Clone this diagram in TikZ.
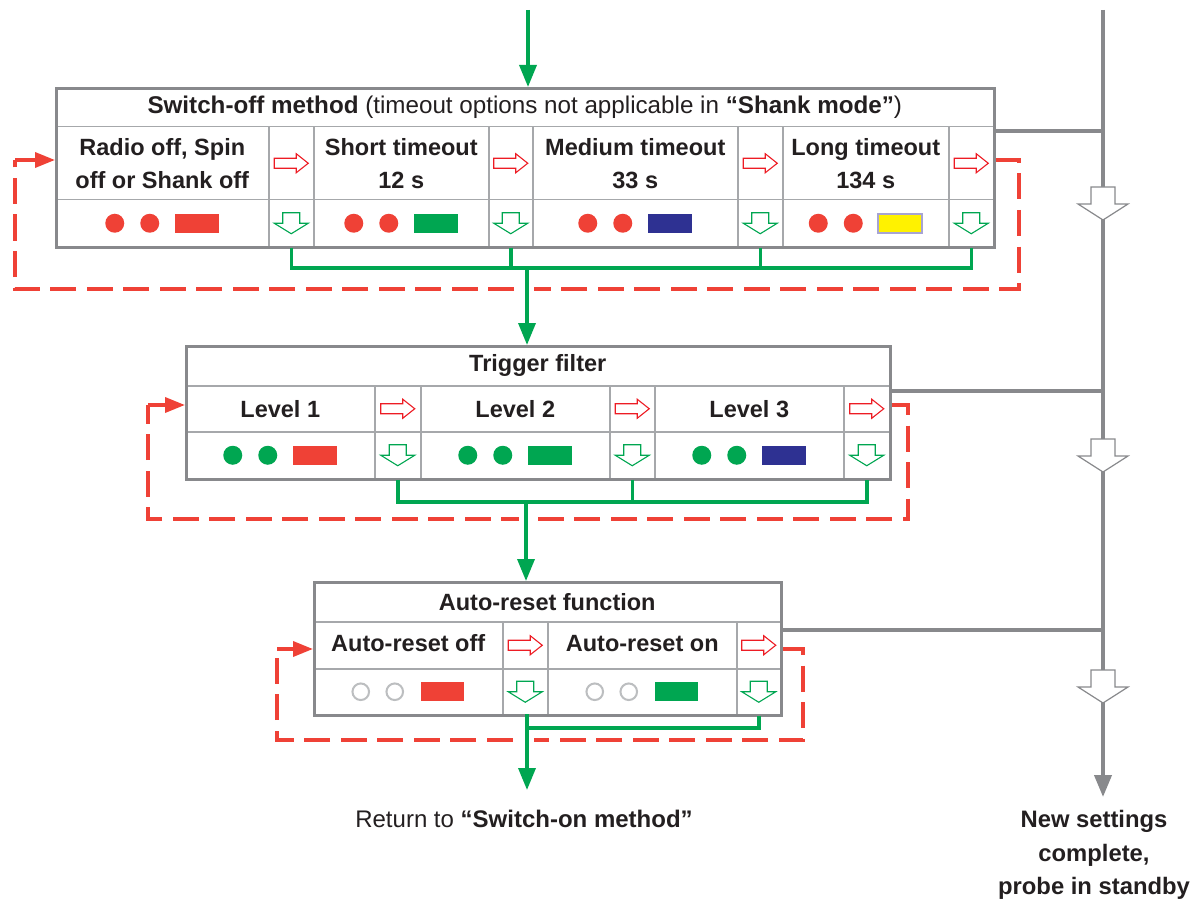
\documentclass[tikz,border=0pt]{standalone}
\usepackage{fontspec}
\setmainfont{Liberation Sans}
\usetikzlibrary{arrows.meta}
\definecolor{rd}{HTML}{EF4136}
\definecolor{rdl}{HTML}{ED1C24}
\definecolor{gn}{HTML}{00A651}
\definecolor{bl}{HTML}{2E3192}
\definecolor{yl}{HTML}{FFF200}
\definecolor{ylb}{HTML}{A7A4D3}
\definecolor{gr}{HTML}{88898C}
\definecolor{grl}{HTML}{A6A8AB}
\definecolor{ring}{HTML}{BCBEC0}
\definecolor{txt}{HTML}{231F20}
\tikzset{
  cell/.style={draw=grl, line width=1.5pt, inner sep=0pt, anchor=north west, align=center, text=txt, font=\bfseries\fontsize{23.5}{33}\selectfont},
  outer/.style={draw=gr, line width=3pt, inner sep=0pt, anchor=north west},
  gline/.style={draw=gn, line width=3.5pt, line join=miter},
  garrow/.style={gline, -{Triangle[width=17pt,length=22pt]}},
  rloop/.style={draw=rd, line width=3.5pt, dash pattern=on 26pt off 10.5pt, line join=miter},
  rtip/.style={draw=rd, line width=3.5pt, -{Triangle[width=15pt,length=20pt]}},
  grline/.style={draw=gr, line width=4pt},
  grarrow/.style={grline, -{Triangle[width=17pt,length=22pt]}},
  halo/.style={draw=white, line width=14pt},
  pics/rarr/.style={code={\draw[rdl, fill=white, line width=1.1pt, line join=miter] (-17,-5) -- (5,-5) -- (5,-9.5) -- (17,0) -- (5,9.5) -- (5,5) -- (-17,5) -- cycle;}},
  pics/darr/.style={code={\draw[gn, fill=white, line width=1.1pt, line join=miter] (-8.5,-10.5) -- (8.5,-10.5) -- (8.5,0) -- (17,0) -- (0,10.5) -- (-17,0) -- (-8.5,0) -- cycle;}},
  pics/bigdarr/.style={code={\draw[gr, fill=white, line width=1.2pt, line join=miter] (-12,0) -- (12,0) -- (12,17) -- (25,17) -- (0,33) -- (-25,17) -- (-12,17) -- cycle;}},
  pics/lamps/.style 2 args={code={
     \path[#1] (-47.5,0) circle[radius=9.5] (-12.5,0) circle[radius=9.5];
     \path[#2] (12.5,-9.5) rectangle (56.5,9.5);}},
  pics/rings/.style={code={
     \path[draw=ring, line width=2pt, fill=white] (-47.5,0) circle[radius=8.3] (-13.5,0) circle[radius=8.3];
     \path[#1] (12.5,-9.5) rectangle (55.5,9.5);}},
}
\begin{document}
\begin{tikzpicture}[x=1pt,y=-1pt]
\useasboundingbox (0,0) rectangle (1198,901);

% ---------- Box 1 ----------
\node[cell, minimum width=938pt, minimum height=39pt, font=\fontsize{24.2}{28}\selectfont] (h1) at (55,87) {\textbf{Switch-off method} (timeout options not applicable in \textbf{“Shank mode”})};
\node[cell, minimum width=213pt, minimum height=73pt] (b1t1) at (55,126) {Radio off, Spin\\off or Shank off};
\node[cell, minimum width=45pt, minimum height=73pt] (b1r1) at (268,126) {};
\node[cell, minimum width=175pt, minimum height=73pt] (b1t2) at (313,126) {Short timeout\\12 s};
\node[cell, minimum width=44pt, minimum height=73pt] (b1r2) at (488,126) {};
\node[cell, minimum width=205pt, minimum height=73pt] (b1t3) at (532,126) {Medium timeout\\33 s};
\node[cell, minimum width=45pt, minimum height=73pt] (b1r3) at (737,126) {};
\node[cell, minimum width=166pt, minimum height=73pt] (b1t4) at (782,126) {Long timeout\\134 s};
\node[cell, minimum width=45pt, minimum height=73pt] (b1r4) at (948,126) {};
\node[cell, minimum width=213pt, minimum height=47pt] (b1l1) at (55,199) {};
\node[cell, minimum width=45pt, minimum height=47pt] (b1d1) at (268,199) {};
\node[cell, minimum width=175pt, minimum height=47pt] (b1l2) at (313,199) {};
\node[cell, minimum width=44pt, minimum height=47pt] (b1d2) at (488,199) {};
\node[cell, minimum width=205pt, minimum height=47pt] (b1l3) at (532,199) {};
\node[cell, minimum width=45pt, minimum height=47pt] (b1d3) at (737,199) {};
\node[cell, minimum width=166pt, minimum height=47pt] (b1l4) at (782,199) {};
\node[cell, minimum width=45pt, minimum height=47pt] (b1d4) at (948,199) {};
\node[outer, minimum width=938pt, minimum height=159pt] (box1) at (55,87) {};

% ---------- Box 2 ----------
\node[cell, minimum width=704pt, minimum height=40pt] (h2) at (185,345) {Trigger filter};
\node[cell, minimum width=189pt, minimum height=46pt] (b2t1) at (185,385) {Level 1};
\node[cell, minimum width=46pt, minimum height=46pt] (b2r1) at (374,385) {};
\node[cell, minimum width=189pt, minimum height=46pt] (b2t2) at (420,385) {Level 2};
\node[cell, minimum width=45pt, minimum height=46pt] (b2r2) at (609,385) {};
\node[cell, minimum width=189pt, minimum height=46pt] (b2t3) at (654,385) {Level 3};
\node[cell, minimum width=46pt, minimum height=46pt] (b2r3) at (843,385) {};
\node[cell, minimum width=189pt, minimum height=47pt] (b2l1) at (185,431) {};
\node[cell, minimum width=46pt, minimum height=47pt] (b2d1) at (374,431) {};
\node[cell, minimum width=189pt, minimum height=47pt] (b2l2) at (420,431) {};
\node[cell, minimum width=45pt, minimum height=47pt] (b2d2) at (609,431) {};
\node[cell, minimum width=189pt, minimum height=47pt] (b2l3) at (654,431) {};
\node[cell, minimum width=46pt, minimum height=47pt] (b2d3) at (843,431) {};
\node[outer, minimum width=704pt, minimum height=133pt] (box2) at (185,345) {};

% ---------- Box 3 ----------
\node[cell, minimum width=467pt, minimum height=40pt] (h3) at (313,581) {Auto-reset function};
\node[cell, minimum width=189pt, minimum height=47pt, text depth=4pt] (b3t1) at (313,621) {Auto-reset off};
\node[cell, minimum width=45pt, minimum height=47pt] (b3r1) at (502,621) {};
\node[cell, minimum width=189pt, minimum height=47pt, text depth=4pt] (b3t2) at (547,621) {Auto-reset on};
\node[cell, minimum width=44pt, minimum height=47pt] (b3r2) at (736,621) {};
\node[cell, minimum width=189pt, minimum height=46pt] (b3l1) at (313,668) {};
\node[cell, minimum width=45pt, minimum height=46pt] (b3d1) at (502,668) {};
\node[cell, minimum width=189pt, minimum height=46pt] (b3l2) at (547,668) {};
\node[cell, minimum width=44pt, minimum height=46pt] (b3d2) at (736,668) {};
\node[outer, minimum width=467pt, minimum height=133pt] (box3) at (313,581) {};

% ---------- texts ----------
\node[text=txt, font=\fontsize{24}{33}\selectfont, inner sep=0pt] (ret) at (524,819) {Return to \textbf{“Switch-on method”}};
\node[text=txt, font=\bfseries\fontsize{23.8}{33.5}\selectfont, align=center, inner sep=0pt] (done) at (1094,855) {New settings\\complete,\\probe in standby};

% ---------- coordinates ----------
\coordinate (gtop) at (528,10);
\coordinate (vtop) at (1103,10);
\coordinate (vend) at (1103,797);
\coordinate (j1) at (527,268);
\coordinate (j2) at (526,502);
\coordinate (j3) at (527,714);
\coordinate (j3b) at (527,728);
\coordinate (retarr) at (527,790);
\coordinate (L1a) at (1019,289);
\coordinate (L1b) at (15,160);
\coordinate (L2a) at (908,519);
\coordinate (L2b) at (148,405);
\coordinate (L3a) at (803,740);
\coordinate (L3b) at (277,649);
\coordinate (G1) at (1103,131);
\coordinate (G2) at (1103,391);
\coordinate (G3) at (1103,630);

% ---------- red loops ----------
\draw[rloop] (box1.east |- L1b) -| (L1a) -| (L1b);
\draw[rtip] (L1b) -- (box1.west |- L1b);
\draw[rloop] (box2.east |- L2b) -| (L2a) -| (L2b);
\draw[rtip] (L2b) -- (box2.west |- L2b);
\draw[rloop] (box3.east |- L3b) -| (L3a) -| (L3b);
\draw[rtip] (L3b) -- (box3.west |- L3b);

% ---------- white gaps ----------
\draw[halo] ([yshift=-8pt]j1) -- ([yshift=-34pt]j1);
\draw[halo] ([yshift=-6pt]j2) -- ([yshift=-30pt]j2);
\draw[halo] ([yshift=-19pt]j3) -- ([yshift=-40pt]j3);

% ---------- green connectors ----------
\draw[garrow] (gtop) -- (gtop |- box1.north);
\draw[gline] (b1d1.south) |- (b1d4.south |- j1) -- (b1d4.south);
\draw[gline] (b1d2.south) -- (b1d2.south |- j1);
\draw[gline] (b1d3.south) -- (b1d3.south |- j1);
\draw[garrow] (j1) -- (j1 |- box2.north);
\draw[gline] (b2d1.south) |- (b2d3.south |- j2) -- (b2d3.south);
\draw[gline] (b2d2.south) -- (b2d2.south |- j2);
\draw[garrow] (j2) -- (j2 |- box3.north);
\draw[garrow] (j3) -- (retarr);
\draw[gline] (b3d2.south) |- (j3b);

% ---------- gray lines ----------
\draw[grarrow] (vtop) -- (vend);
\draw[grline] (box1.east |- G1) -- (G1);
\draw[grline] (box2.east |- G2) -- (G2);
\draw[grline] (box3.east |- G3) -- (G3);
\pic at (1103,187) {bigdarr};
\pic at (1103,439) {bigdarr};
\pic at (1103,670) {bigdarr};

% ---------- cell icons ----------
\foreach \c in {b1r1,b1r2,b1r3,b1r4,b2r1,b2r2,b2r3,b3r1,b3r2} {\pic at (\c.center) {rarr};}
\foreach \c in {b1d1,b1d2,b1d3,b1d4,b2d1,b2d2,b2d3,b3d1,b3d2} {\pic at (\c.center) {darr};}
\pic at (b1l1.center) {lamps={fill=rd}{fill=rd}};
\pic at (b1l2.center) {lamps={fill=rd}{fill=gn}};
\pic at (b1l3.center) {lamps={fill=rd}{fill=bl}};
\pic at (b1l4.center) {lamps={fill=rd}{fill=yl,draw=ylb,line width=2pt}};
\pic at (b2l1.center) {lamps={fill=gn}{fill=rd}};
\pic at (b2l2.center) {lamps={fill=gn}{fill=gn}};
\pic at (b2l3.center) {lamps={fill=gn}{fill=bl}};
\pic at (b3l1.center) {rings={fill=rd}};
\pic at (b3l2.center) {rings={fill=gn}};
\end{tikzpicture}
\end{document}
